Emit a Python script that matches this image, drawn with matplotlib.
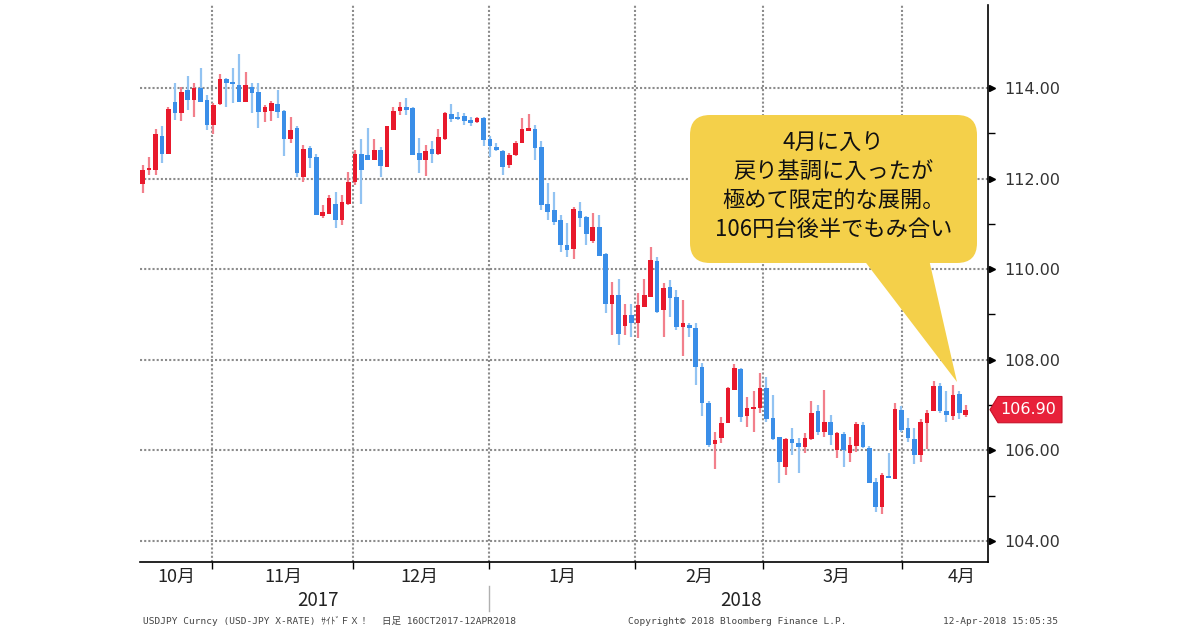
import matplotlib
matplotlib.use('Agg')
import matplotlib.pyplot as plt
import matplotlib.transforms as mtransforms
from matplotlib.patches import FancyBboxPatch, Polygon
import numpy as np

# USD/JPY daily candles (oldest first)
opens = [111.89, 112.19, 112.19, 112.94, 112.54, 113.68, 113.44, 113.96, 113.74, 114.01,
         113.74, 113.18, 113.64, 114.19, 114.12, 114.07, 113.70, 114.03, 113.92, 113.48,
         113.49, 113.64, 113.50, 112.87, 113.11, 112.04, 112.67, 112.48, 111.17, 111.21,
         111.45, 111.09, 111.45, 111.93, 112.54, 112.52, 112.41, 112.63, 112.26, 113.07,
         113.50, 113.59, 113.55, 112.56, 112.41, 112.65, 112.54, 112.87, 113.42, 113.37,
         113.38, 113.29, 113.24, 113.34, 112.87, 112.70, 112.62, 112.30, 112.52, 112.78,
         113.06, 113.09, 112.70, 111.45, 111.31, 111.09, 110.53, 110.44, 111.29, 111.15,
         110.62, 110.94, 110.33, 109.23, 109.43, 108.75, 108.99, 108.81, 109.17, 109.39,
         110.17, 109.10, 109.60, 109.38, 108.73, 108.77, 108.70, 107.85, 107.04, 106.14,
         106.27, 106.61, 107.33, 107.79, 106.76, 106.91, 106.93, 107.37, 106.71, 106.29,
         105.64, 106.25, 106.17, 106.08, 106.25, 106.86, 106.41, 106.63, 106.00, 106.37,
         105.95, 106.09, 106.56, 106.05, 105.31, 104.76, 105.44, 105.36, 106.89, 106.49,
         106.25, 105.90, 106.60, 106.86, 107.42, 106.88, 106.75, 107.25, 106.78]
highs = [112.30, 112.48, 113.09, 113.16, 113.57, 114.10, 114.03, 114.26, 114.10, 114.45,
         113.85, 113.66, 114.30, 114.21, 114.45, 114.74, 114.36, 114.10, 114.10, 113.62,
         113.71, 113.96, 113.51, 113.35, 113.16, 112.74, 112.72, 112.54, 111.42, 111.64,
         111.71, 111.64, 112.15, 112.63, 112.87, 113.11, 112.87, 112.69, 113.16, 113.59,
         113.68, 113.77, 113.59, 112.89, 112.74, 112.83, 113.09, 113.48, 113.64, 113.46,
         113.45, 113.35, 113.37, 113.37, 112.94, 112.78, 112.63, 112.56, 112.83, 113.34,
         113.42, 113.18, 112.82, 111.91, 111.71, 111.20, 111.01, 111.38, 111.49, 111.17,
         111.23, 111.20, 110.35, 109.72, 109.78, 109.23, 109.23, 109.48, 109.78, 110.48,
         110.28, 109.69, 109.76, 109.54, 109.32, 108.81, 108.81, 107.92, 107.08, 106.41,
         106.74, 107.41, 107.90, 107.81, 107.17, 107.30, 107.70, 107.63, 107.22, 106.30,
         106.27, 106.49, 106.27, 106.38, 107.08, 107.00, 107.33, 106.78, 106.41, 106.41,
         106.30, 106.63, 106.63, 106.09, 105.38, 105.49, 105.94, 107.05, 106.97, 106.71,
         106.49, 106.69, 106.89, 107.53, 107.48, 107.30, 107.44, 107.30, 107.00]
lows = [111.69, 112.08, 112.08, 112.34, 112.54, 113.29, 113.27, 113.51, 113.37, 113.68,
        113.07, 112.98, 113.62, 113.57, 113.66, 113.70, 113.70, 113.44, 113.12, 113.26,
        113.27, 113.33, 112.50, 112.78, 112.04, 111.93, 112.23, 111.20, 111.12, 111.21,
        110.90, 110.98, 111.42, 111.86, 111.45, 112.41, 112.41, 112.03, 112.25, 113.07,
        113.40, 113.40, 112.52, 112.12, 112.06, 112.35, 112.52, 112.85, 113.26, 113.29,
        113.18, 113.16, 113.22, 112.72, 112.48, 112.61, 112.09, 112.24, 112.50, 112.78,
        113.05, 112.41, 111.31, 111.09, 110.98, 110.39, 110.28, 110.22, 110.94, 110.53,
        110.57, 110.29, 109.03, 108.55, 108.33, 108.55, 108.50, 108.47, 109.17, 109.39,
        109.04, 108.51, 108.95, 108.66, 108.08, 108.51, 107.45, 106.76, 106.08, 105.60,
        106.16, 106.60, 107.33, 106.63, 106.52, 106.41, 106.82, 106.63, 106.23, 105.29,
        105.46, 105.90, 105.51, 105.94, 106.23, 106.34, 106.30, 106.12, 105.83, 105.64,
        105.75, 105.97, 106.05, 105.27, 104.65, 104.60, 105.38, 105.36, 106.41, 106.19,
        105.71, 105.75, 106.02, 106.86, 106.82, 106.63, 106.66, 106.69, 106.73]
closes = [112.19, 112.24, 112.98, 112.54, 113.53, 113.44, 113.92, 113.74, 114.01, 113.68,
          113.18, 113.62, 114.19, 114.10, 114.09, 113.70, 114.07, 113.88, 113.48, 113.57,
          113.66, 113.48, 112.87, 113.07, 112.12, 112.65, 112.45, 111.20, 111.27, 111.58,
          111.09, 111.49, 111.93, 112.54, 112.19, 112.41, 112.63, 112.28, 113.15, 113.49,
          113.59, 113.51, 112.52, 112.41, 112.61, 112.54, 112.91, 113.44, 113.32, 113.31,
          113.28, 113.22, 113.34, 112.85, 112.71, 112.63, 112.25, 112.52, 112.78, 113.09,
          113.12, 112.67, 111.42, 111.27, 111.05, 110.53, 110.42, 111.32, 111.12, 110.78,
          110.94, 110.29, 109.23, 109.43, 108.57, 108.99, 108.81, 109.21, 109.43, 110.20,
          109.06, 109.59, 109.36, 108.73, 108.82, 108.70, 107.84, 107.04, 106.12, 106.23,
          106.61, 107.37, 107.81, 106.74, 106.93, 106.95, 107.37, 106.69, 106.25, 105.75,
          106.25, 106.16, 106.08, 106.27, 106.83, 106.41, 106.63, 106.34, 106.39, 106.01,
          106.12, 106.59, 106.07, 105.27, 104.76, 105.46, 105.38, 106.91, 106.45, 106.27,
          105.90, 106.63, 106.83, 107.42, 106.86, 106.78, 107.22, 106.83, 106.90]

# month boundaries and labels, in candle-index units
month_edges = [11.8, 33.7, 54.8, 77.5, 97.5, 119.1]
month_labels = ['10月', '11月', '12月', '1月', '2月', '3月', '4月']
month_label_pos = [6.3, 22.8, 44.0, 66.2, 87.6, 108.9, 128.4]
year_labels = ['2017', '2018']
year_label_pos = [28.2, 94.1]
year_split = 54.8

price_ticks = [104, 106, 108, 110, 112, 114]
price_minor = [105, 107, 109, 111, 113]
last_price = 106.90

callout_lines = ['4月に入り', '戻り基調に入ったが', '極めて限定的な展開。', '106円台後半でもみ合い']
footer_left = 'USDJPY Curncy (USD-JPY X-RATE) ｻｲﾄﾞＦＸ！'
footer_range = '日足 16OCT2017-12APR2018'
footer_copy = 'Copyright© 2018 Bloomberg Finance L.P.'
footer_time = '12-Apr-2018 15:05:35'

JP = ['Noto Sans CJK JP', 'DejaVu Sans']
MONO = ['DejaVu Sans Mono', 'Noto Sans CJK JP']
RED, RED_WICK = '#E8192C', '#F2808C'
BLUE, BLUE_WICK = '#3A8EE8', '#92C3F2'

W, H = 1200, 630
fig = plt.figure(figsize=(W / 100, H / 100), dpi=100)
ax = fig.add_axes([140 / W, 1 - 562 / H, 847.5 / W, 557 / H])

o, h, l, c = map(np.array, (opens, highs, lows, closes))
x = np.arange(1, len(o) + 1)
up = c >= o
ax.vlines(x, l, h, colors=np.where(up, RED_WICK, BLUE_WICK), linewidth=1.6, zorder=2)
ax.bar(x, np.maximum(np.abs(c - o), 0.04), bottom=np.minimum(o, c), width=0.72,
       color=np.where(up, RED, BLUE), zorder=3)

ax.set_xlim(0.58, 132.38)
ax.set_ylim(103.536, 115.832)

# axes / grid
for s in ('top', 'left'):
    ax.spines[s].set_visible(False)
ax.spines['right'].set_linewidth(1.2)
ax.spines['bottom'].set_linewidth(1.2)
ax.set_axisbelow(True)
ax.set_xticks(month_edges)
ax.set_xticklabels([])
ax.tick_params(axis='x', length=5, width=1, direction='out', color='black')
ax.yaxis.tick_right()
ax.set_yticks(price_ticks)
ax.set_yticklabels([f'{v:.2f}' for v in price_ticks])
ax.set_yticks(price_minor, minor=True)
ax.tick_params(axis='y', which='major', length=0, pad=12, labelsize=11.5, labelcolor='#333333')
ax.tick_params(axis='y', which='minor', length=5, width=1, direction='out', color='black')
ax.grid(True, color='#8c8c8c', linestyle=(0, (1, 1)), linewidth=1.5)

ytrans = mtransforms.blended_transform_factory(ax.transAxes, ax.transData)
ax.plot([1.0053] * len(price_ticks), price_ticks, ls='none', marker='>', ms=5,
        color='black', transform=ytrans, clip_on=False)

# pixel transform (origin top-left of the figure)
px = mtransforms.Affine2D().scale(1 / W, -1 / H).translate(0, 1) + fig.transFigure
xdata_ypx = mtransforms.blended_transform_factory(ax.transData, px)
xpx_ydata = mtransforms.blended_transform_factory(px, ax.transData)

for lab, pos in zip(month_labels, month_label_pos):
    fig.text(pos, 577, lab, transform=xdata_ypx, ha='center', va='center',
             fontsize=13, family=JP, color='#222222')
for lab, pos in zip(year_labels, year_label_pos):
    fig.text(pos, 600, lab, transform=xdata_ypx, ha='center', va='center',
             fontsize=13.5, family=JP, color='#222222')
fig.add_artist(plt.Line2D([year_split, year_split], [586, 611], transform=xdata_ypx,
                          color='#b0b0b0', linewidth=1))

# footer
for txt, fx in ((footer_left, 143), (footer_range, 382), (footer_copy, 628), (footer_time, 943)):
    fig.text(fx, 621, txt, transform=px, ha='left', va='center', fontsize=6.8,
             family=MONO, color='#444444')

# last price tag
hh = 0.29
tag = Polygon([(990, last_price), (998, last_price + hh), (1062, last_price + hh),
               (1062, last_price - hh), (998, last_price - hh)], closed=True,
              transform=xpx_ydata, facecolor='#E8213A', edgecolor='#c81028', linewidth=0.8)
fig.add_artist(tag)
fig.text(1000, last_price, f'{last_price:.2f}', transform=xpx_ydata, ha='left', va='center',
         fontsize=11.5, color='white')

# callout
YEL = '#F4D04A'
box = FancyBboxPatch((710, 135), 247, 108, boxstyle='round,pad=20', transform=px,
                     facecolor=YEL, edgecolor='none', zorder=5)
fig.add_artist(box)
tail = Polygon([(860, 255), (928, 255), (957, 382)], closed=True, transform=px,
               facecolor=YEL, edgecolor='none', zorder=5)
fig.add_artist(tail)
for txt, ty in zip(callout_lines, [143, 172, 201, 230]):
    fig.text(833.5, ty, txt, transform=px, ha='center', va='center', fontsize=16,
             family=JP, color='#111111', zorder=6)

fig.savefig('out.png', dpi=100)
